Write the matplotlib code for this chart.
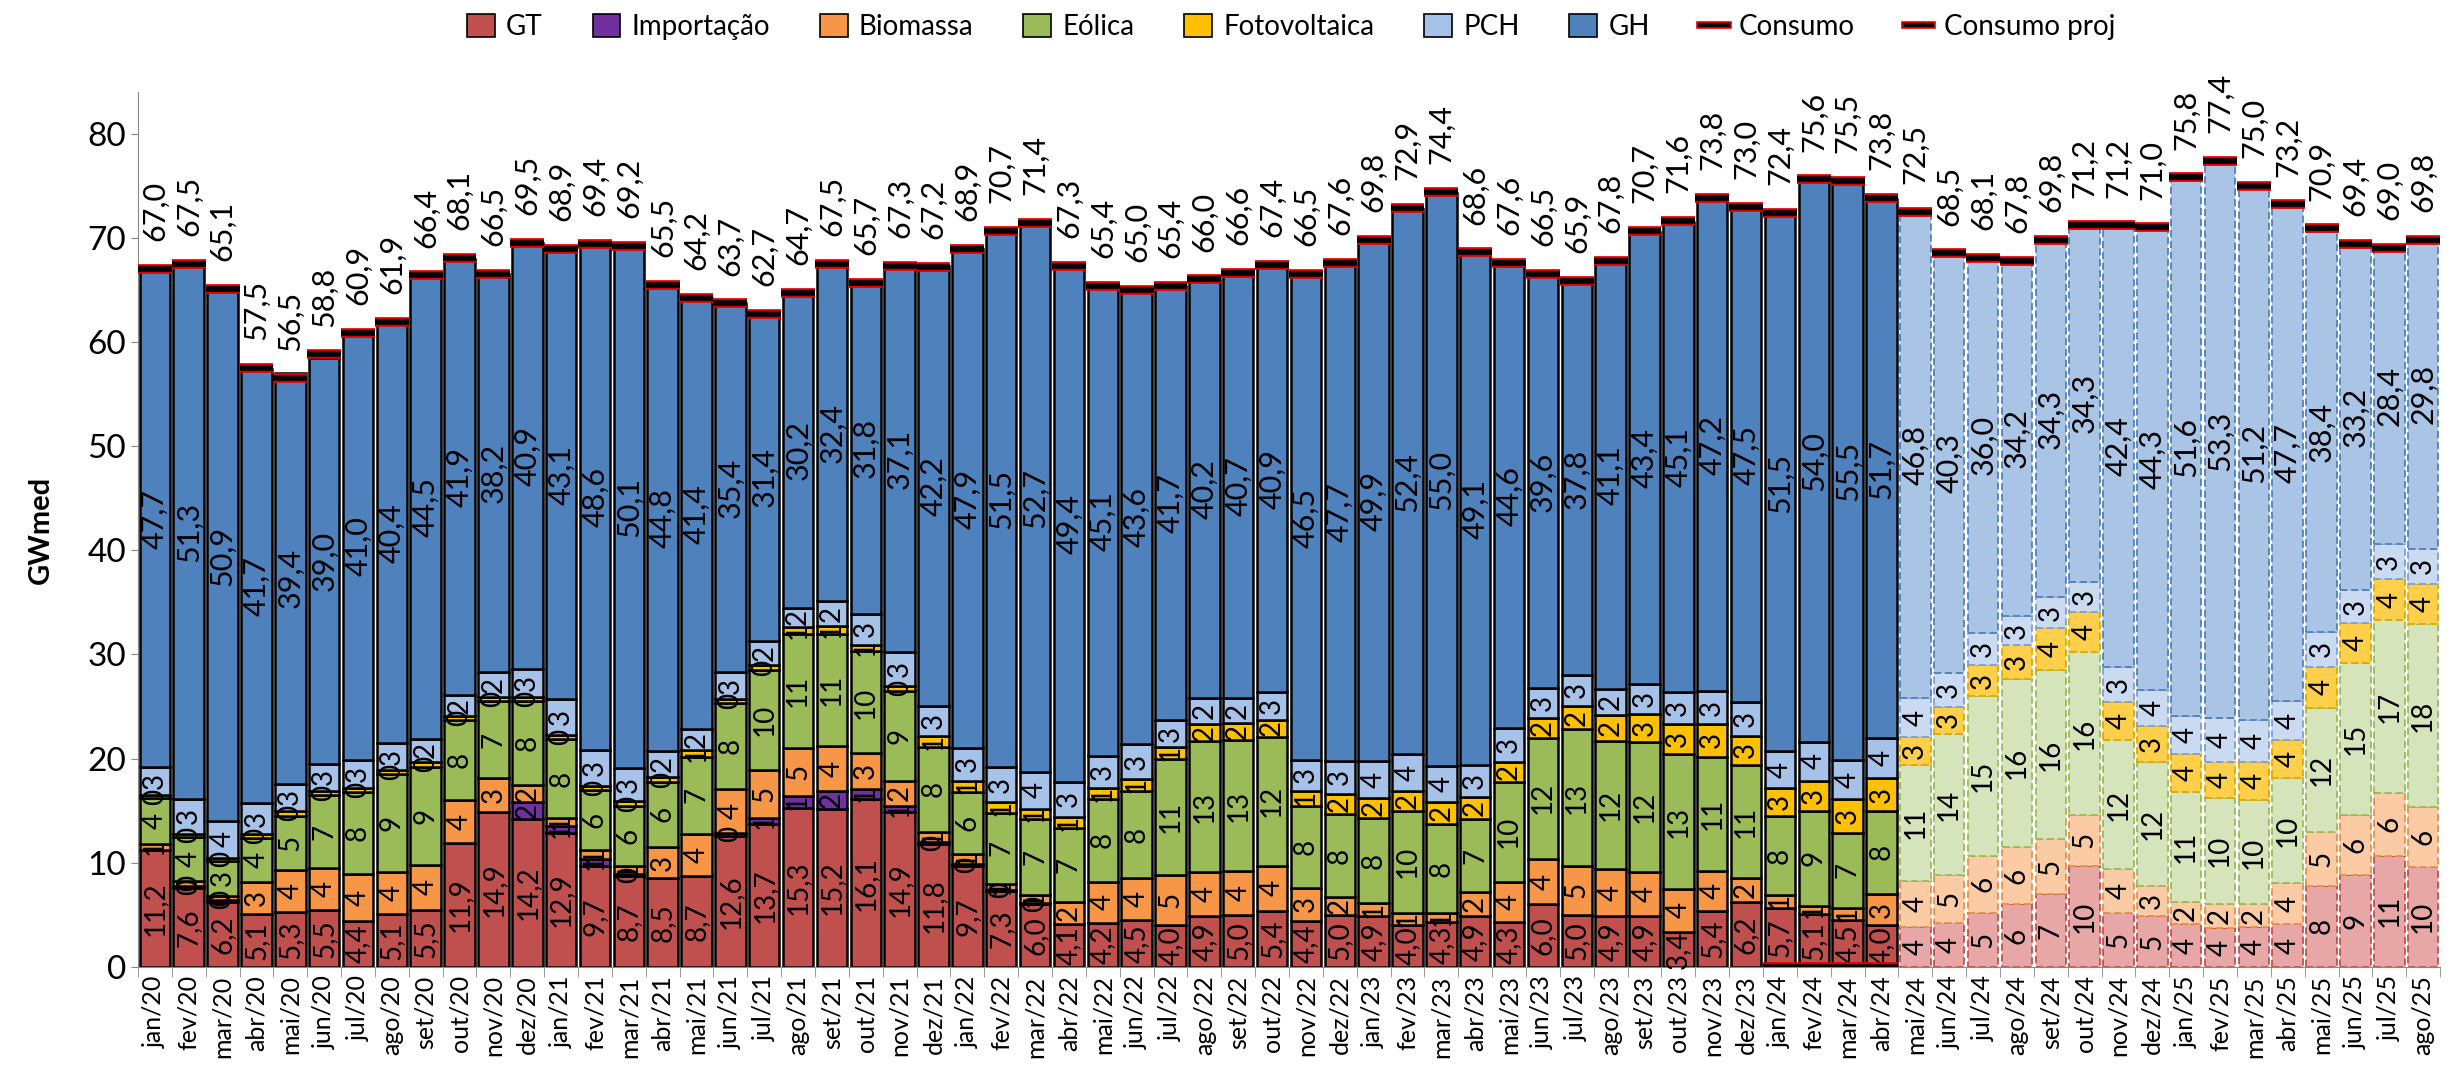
import numpy as np
import matplotlib
matplotlib.use("Agg")
import matplotlib.pyplot as plt
import matplotlib.patheffects as pe
from matplotlib.patches import Patch
from matplotlib.lines import Line2D

plt.rcParams['font.family'] = ['Lato', 'DejaVu Sans']

# month labels jan/20 .. ago/25
month_names = ['jan', 'fev', 'mar', 'abr', 'mai', 'jun', 'jul', 'ago', 'set', 'out', 'nov', 'dez']
years = ['20', '21', '22', '23', '24', '25']
months = [m + '/' + y for y in years for m in month_names][:68]

# verified history jan/20 .. abr/24 (GWmed)
gt_hist = [11.2, 7.6, 6.2, 5.1, 5.3, 5.5, 4.4, 5.1, 5.5, 11.9, 14.9, 14.2,
           12.9, 9.7, 8.7, 8.5, 8.7, 12.6, 13.7, 15.3, 15.2, 16.1, 14.9, 11.8,
           9.7, 7.3, 6.0, 4.1, 4.2, 4.5, 4.0, 4.9, 5.0, 5.4, 4.4, 5.0,
           4.9, 4.0, 4.3, 4.9, 4.3, 6.0, 5.0, 4.9, 4.9, 3.4, 5.4, 6.2,
           5.7, 5.1, 4.5, 4.0]
imp_hist = [0, 0.2, 0.2, 0, 0, 0, 0, 0, 0, 0, 0, 1.6,
            0.6, 0.7, 0.2, 0, 0, 0.3, 0.6, 1.1, 1.7, 1.0, 0.6, 0.2,
            0.2, 0.1, 0.1, 0, 0, 0, 0, 0, 0, 0, 0, 0,
            0, 0, 0, 0, 0, 0, 0, 0, 0, 0, 0, 0,
            0, 0, 0, 0]
bio_hist = [0.6, 0.5, 0.4, 3.1, 4.0, 4.0, 4.5, 4.0, 4.3, 4.1, 3.2, 1.7,
            0.8, 0.8, 0.8, 3.0, 4.1, 4.2, 4.6, 4.6, 4.3, 3.4, 2.4, 1.0,
            0.9, 0.6, 0.8, 2.1, 4.0, 4.0, 4.8, 4.2, 4.2, 4.3, 3.2, 1.7,
            1.2, 1.2, 0.9, 2.3, 3.9, 4.4, 4.7, 4.5, 4.2, 4.1, 3.8, 2.3,
            1.2, 0.8, 1.2, 3.0]
eol_hist = [4.4, 4.2, 3.4, 4.2, 5.2, 7.0, 7.9, 9.4, 9.4, 7.7, 7.4, 8.0,
            7.6, 5.8, 5.8, 6.3, 7.4, 8.2, 9.6, 11.0, 10.8, 9.8, 8.6, 8.1,
            6.0, 6.8, 7.3, 7.1, 7.9, 8.4, 11.2, 12.6, 12.6, 12.4, 7.9, 8.0,
            8.2, 9.8, 8.5, 7.0, 9.6, 11.6, 13.1, 12.3, 12.5, 12.9, 11.0, 10.9,
            7.6, 9.1, 7.2, 8.0]
foto_hist = [0.3, 0.3, 0.3, 0.4, 0.5, 0.4, 0.4, 0.4, 0.5, 0.4, 0.4, 0.4,
             0.4, 0.4, 0.4, 0.4, 0.6, 0.4, 0.5, 0.6, 0.7, 0.6, 0.5, 1.1,
             1.1, 1.0, 1.0, 1.1, 1.1, 1.1, 1.1, 1.6, 1.6, 1.6, 1.4, 1.9,
             1.9, 1.9, 2.1, 2.1, 1.9, 1.9, 2.3, 2.5, 2.7, 2.9, 3.1, 2.8,
             2.7, 2.9, 3.2, 3.1]
pch_hist = [2.7, 3.3, 3.5, 2.9, 2.6, 2.6, 2.7, 2.6, 2.2, 2.0, 2.4, 2.7,
            3.4, 3.4, 3.2, 2.5, 2.0, 2.6, 2.3, 1.9, 2.4, 3.0, 3.2, 2.9,
            3.1, 3.4, 3.5, 3.4, 3.1, 3.4, 2.6, 2.5, 2.4, 2.7, 3.0, 3.2,
            3.6, 3.5, 3.5, 3.1, 3.2, 2.9, 2.9, 2.5, 2.9, 3.1, 3.2, 3.2,
            3.5, 3.7, 3.8, 3.9]
gh_hist = [47.7, 51.3, 50.9, 41.7, 39.4, 39.0, 41.0, 40.4, 44.5, 41.9, 38.2, 40.9,
           43.1, 48.6, 50.1, 44.8, 41.4, 35.4, 31.4, 30.2, 32.4, 31.8, 37.1, 42.2,
           47.9, 51.5, 52.7, 49.4, 45.1, 43.6, 41.7, 40.2, 40.7, 40.9, 46.5, 47.7,
           49.9, 52.4, 55.0, 49.1, 44.6, 39.6, 37.8, 41.1, 43.4, 45.1, 47.2, 47.5,
           51.5, 54.0, 55.5, 51.7]
consumo = [67.0, 67.5, 65.1, 57.5, 56.5, 58.8, 60.9, 61.9, 66.4, 68.1, 66.5, 69.5,
           68.9, 69.4, 69.2, 65.5, 64.2, 63.7, 62.7, 64.7, 67.5, 65.7, 67.3, 67.2,
           68.9, 70.7, 71.4, 67.3, 65.4, 65.0, 65.4, 66.0, 66.6, 67.4, 66.5, 67.6,
           69.8, 72.9, 74.4, 68.6, 67.6, 66.5, 65.9, 67.8, 70.7, 71.6, 73.8, 73.0,
           72.4, 75.6, 75.5, 73.8]

# projection mai/24 .. ago/25
gt_proj = [3.8, 4.2, 5.2, 6.0, 7.0, 9.7, 5.2, 4.9, 4.1, 3.7, 3.8, 4.1, 7.8, 8.8, 10.7, 9.6]
bio_proj = [4.5, 4.6, 5.5, 5.5, 5.3, 4.9, 4.2, 2.9, 2.1, 2.3, 2.2, 4.0, 5.2, 5.8, 6.0, 5.8]
eol_proj = [11.1, 13.6, 15.3, 16.1, 16.2, 15.6, 12.4, 11.9, 10.6, 10.2, 10.0, 10.0, 11.9, 14.6, 16.6, 17.5]
foto_proj = [2.7, 2.6, 3.0, 3.3, 4.0, 3.9, 3.6, 3.4, 3.6, 3.5, 3.7, 3.7, 3.9, 3.8, 3.9, 3.9]
pch_proj = [3.7, 3.2, 3.1, 2.8, 3.0, 2.9, 3.4, 3.5, 3.7, 4.2, 4.0, 3.7, 3.4, 3.2, 3.4, 3.3]
gh_proj = [46.8, 40.3, 36.0, 34.2, 34.3, 34.3, 42.4, 44.3, 51.6, 53.3, 51.2, 47.7, 38.4, 33.2, 28.4, 29.8]
# consumo proj series starts at jan/24 (zeros until abr/24)
consumo_proj = [0, 0, 0, 0,
                72.5, 68.5, 68.1, 67.8, 69.8, 71.2, 71.2, 71.0, 75.8, 77.4, 75.0, 73.2, 70.9, 69.4, 69.0, 69.8]

names = ['GT', 'Importação', 'Biomassa', 'Eólica', 'Fotovoltaica', 'PCH', 'GH']
colors = ['#C0504D', '#7030A0', '#F79646', '#9BBB59', '#FFC000', '#A7C2E8', '#4F81BD']
colors_proj = ['#E6A7A6', '#B99ACF', '#FBCBA6', '#D6E4BC', '#FDCF4A', '#C9DAF1', '#AAC4E6']
edges_proj = ['#C0504D', '#7030A0', '#E8904A', '#9BBB59', '#E0A800', '#7F9FD0', '#4F81BD']


def fmt(v, dec):
    if dec:
        return f"{v:.1f}".replace('.', ',')
    return f"{v:.0f}"


fig = plt.figure(figsize=(24.59, 10.82), dpi=100)
ax = fig.add_axes([0.0561, 0.1063, 0.9362, 0.8087])

n_hist = len(gt_hist)
x_hist = np.arange(n_hist)
x_proj = np.arange(n_hist, n_hist + len(gt_proj))
width = 0.9
lab_fs = 20
tot_fs = 22

hist_series = [gt_hist, imp_hist, bio_hist, eol_hist, foto_hist, pch_hist, gh_hist]
proj_series = [gt_proj, [0] * len(gt_proj), bio_proj, eol_proj, foto_proj, pch_proj, gh_proj]

# historical bars
bottom = np.zeros(n_hist)
for i, vals in enumerate(hist_series):
    vals = np.array(vals, dtype=float)
    ax.bar(x_hist, vals, width, bottom=bottom, color=colors[i],
           edgecolor='black', linewidth=1.8, zorder=2)
    for xi, b, v in zip(x_hist, bottom, vals):
        if v > 0:
            ax.text(xi, b + v / 2, fmt(v, i in (0, 6)), rotation=90, ha='center',
                    va='center', fontsize=lab_fs if i != 6 else tot_fs, zorder=5)
    bottom += vals

# projected bars
bottom = np.zeros(len(x_proj))
for i, vals in enumerate(proj_series):
    vals = np.array(vals, dtype=float)
    if vals.sum() == 0:
        continue
    ax.bar(x_proj, vals, width, bottom=bottom, color=colors_proj[i],
           edgecolor=edges_proj[i], linewidth=1.3, linestyle=(0, (4, 2)), zorder=2)
    for xi, b, v in zip(x_proj, bottom, vals):
        ax.text(xi, b + v / 2, fmt(v, i == 6), rotation=90, ha='center',
                va='center', fontsize=lab_fs if i != 6 else tot_fs, zorder=5)
    bottom += vals

# consumo markers
stroke = [pe.Stroke(linewidth=7, foreground='#E00000'), pe.Normal()]
ax.hlines(consumo, x_hist - 0.5, x_hist + 0.5, colors='black', linewidth=4,
          zorder=6, path_effects=stroke)
x_cproj = np.arange(n_hist - 4, n_hist + len(gt_proj))
ax.hlines(consumo_proj, x_cproj - 0.5, x_cproj + 0.5, colors='black', linewidth=4,
          zorder=6, path_effects=stroke)

# total labels
for xi, v in zip(x_hist, consumo):
    ax.annotate(fmt(v, True), (xi, v), xytext=(0, 20), textcoords='offset points',
                rotation=90, ha='center', va='bottom', fontsize=tot_fs, zorder=7)
for xi, v in zip(x_cproj, consumo_proj):
    if v > 0:
        ax.annotate(fmt(v, True), (xi, v), xytext=(0, 20), textcoords='offset points',
                    rotation=90, ha='center', va='bottom', fontsize=tot_fs, zorder=7)

ax.set_xlim(-0.5, len(months) - 0.5)
ax.set_ylim(0, 84)
ax.set_yticks(np.arange(0, 81, 10))
ax.tick_params(axis='y', labelsize=24, length=5, color='#888888')
ax.set_xticks(np.arange(len(months)))
ax.set_xticklabels(months, rotation=90, fontsize=18)
ax.set_xticks(np.arange(len(months) + 1) - 0.5, minor=True)
ax.tick_params(axis='x', which='major', length=0, pad=6)
ax.tick_params(axis='x', which='minor', length=7, color='#888888')
ax.set_ylabel('GWmed', fontsize=21, fontweight='bold', labelpad=24)
for s in ['top', 'right']:
    ax.spines[s].set_visible(False)
ax.spines['left'].set_color('#888888')
ax.spines['bottom'].set_color('#888888')

handles = [Patch(facecolor=c, edgecolor='black', linewidth=1.2) for c in colors]
for lab in ['Consumo', 'Consumo proj']:
    handles.append(Line2D([0], [0], color='black', linewidth=3,
                          path_effects=[pe.Stroke(linewidth=5.5, foreground='#E00000'), pe.Normal()]))
fig.legend(handles, names + ['Consumo', 'Consumo proj'], loc='upper center',
           bbox_to_anchor=(0.525, 1.01), ncol=9, frameon=False, fontsize=20,
           handlelength=1.0, handleheight=0.9, columnspacing=1.8, handletextpad=0.4)

fig.savefig('out.png', dpi=100)
